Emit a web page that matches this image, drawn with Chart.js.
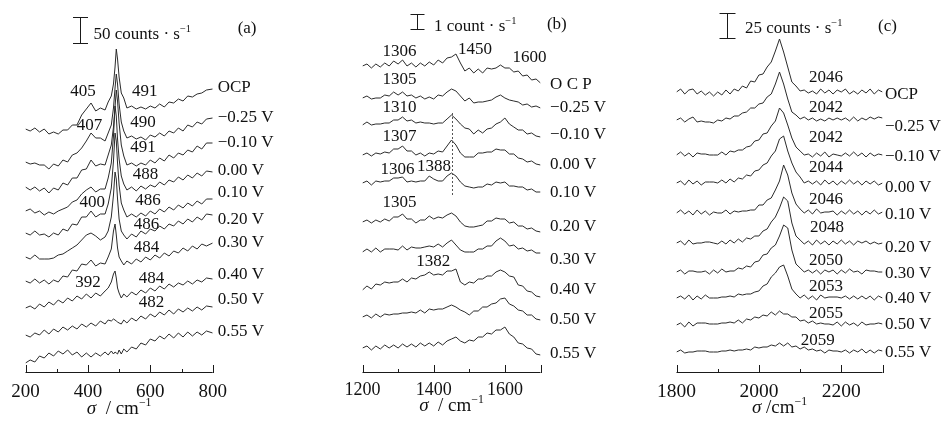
<!DOCTYPE html>
<html>
<head>
<meta charset="utf-8">
<script src="https://cdn.jsdelivr.net/npm/chart.js@4.4.1/dist/chart.umd.min.js"></script>
<style>
  html, body { margin: 0; padding: 0; background: #fff; }
  #wrap { position: relative; width: 941px; height: 424px; overflow: hidden; }
  canvas { position: absolute; top: 0; }
</style>
</head>
<body>
<div id="wrap">
  <canvas id="pa" width="320" height="424" style="left:0px"></canvas>
  <canvas id="pb" width="310" height="424" style="left:320px"></canvas>
  <canvas id="pc" width="311" height="424" style="left:630px"></canvas>
</div>
<script>
// potentials, top to bottom
const potentials = ['OCP', '−0.25 V', '−0.10 V', '0.00 V', '0.10 V', '0.20 V', '0.30 V', '0.40 V', '0.50 V', '0.55 V'];

// ---- panel (a): 200-800 cm-1 ----
const shiftA = [200,215,230,245,260,275,290,305,320,335,350,365,380,395,410,425,440,455,465,475,
  482,487,491,495,500,507,515,525,540,555,570,585,600,615,630,645,660,675,690,705,720,735,750,765,780,800];
const offsetA = [243, 210, 185, 161, 139, 115, 91, 64, 37, 9];
const specA = [
  [0,-2,1,-3,0,-5,-3,-5,-1,-1, 4,4,14,20,26,18,21,19,27,33, 45,62,80,70,52,36,31,21,23,20, 22,20,23,21,25,22,27,26,30,28, 33,32,35,36,39,40],
  [0,-2,-1,-3,-3,-7,-2,-4,2,0, 7,9,14,21,29,24,24,21,29,37, 54,74,88,78,58,40,31,24,26,23, 25,22,27,25,29,26,31,29,34,31, 37,35,40,38,43,44],
  [0,-3,0,-4,-1,-6,-1,-3,4,2, 9,9,17,18,27,21,23,22,32,42, 60,80,97,86,64,42,31,22,24,21, 24,22,27,24,29,26,32,29,34,32, 37,35,41,38,44,44],
  [0,2,-2,0,-4,-1,-3,0,2,4, 9,11,17,21,24,19,22,22,33,48, 75,105,95,72,52,35,27,21,24,20, 25,22,26,24,29,26,31,29,34,31, 36,33,38,35,40,39],
  [0,-2,2,-2,-1,-4,0,-2,4,2, 9,8,16,16,22,16,19,19,29,45, 72,100,92,70,48,30,23,16,19,16, 20,17,22,19,24,21,26,23,28,25, 30,27,32,29,34,34],
  [0,-2,2,-2,-2,-2,-1,2,3,6, 9,12,17,22,24,21,17,20,26,40, 62,85,78,58,38,26,22,18,23,20, 26,23,28,26,31,28,33,31,36,33, 38,35,40,37,43,42],
  [0,-2,2,-2,1,-3,1,-1,5,4, 11,10,17,16,21,15,18,17,24,32, 50,57,46,33,24,20,16,20,17,22, 19,24,21,26,23,28,25,30,28,33, 30,35,32,37,35,38],
  [0,2,-1,4,1,6,3,8,5,10, 7,12,9,14,10,15,12,17,20,26, 34,37,30,20,15,10,14,11,16,13, 18,15,20,17,22,19,24,21,25,23, 27,24,28,26,30,29],
  [0,-2,2,0,5,1,6,3,8,5, 9,6,11,8,12,9,14,11,15,14, 16,15,14,13,12,11,15,12,17,14, 19,16,21,18,23,20,25,21,26,23, 27,24,28,25,29,28],
  [0,3,1,7,5,10,7,12,9,13, 8,11,6,10,6,10,7,11,8,12, 9,11,10,9,13,9,14,11,16,14, 20,18,24,22,27,24,29,25,30,26, 31,27,31,28,32,30]
];

// ---- panel (b): 1200-1700 cm-1 ----
const shiftB = [1200,1212.5,1225,1237.5,1250,1262.5,1275,1287.5,1300,1312.5,1325,1337.5,1350,1362.5,1375,1387.5,
  1400,1412.5,1425,1437.5,1450,1462.5,1475,1487.5,1500,1512.5,1525,1537.5,1550,1562.5,1575,1587.5,
  1600,1612.5,1625,1637.5,1650,1662.5,1675,1687.5,1700];
const offsetB = [306, 274, 247, 217, 189, 150, 120, 82, 55, 24];
const specB = [
  [0,2,-2,2,-1,3,0,5,2,6, 0,3,-1,3,0,4,1,6,3,8, 9,12,3,-5,-2,-7,-3,-7,-2,-3, -2,1,-2,-2,-6,-5,-10,-9,-14,-13, -17],
  [0,2,-1,0,0,3,2,6,3,6, 2,3,0,2,-1,1,-1,3,2,6, 9,7,2,-3,0,-5,-4,-4,-3,-2, 1,3,0,-2,-3,-4,-7,-6,-9,-8, -10],
  [0,3,0,1,1,2,2,5,5,8, 4,5,2,3,2,2,1,2,2,6, 10,6,1,-3,-4,-9,-5,-8,-4,-3, 1,3,7,1,-2,-5,-5,-9,-8,-11, -12],
  [0,2,-1,2,1,3,2,6,6,9, 4,4,0,2,-1,2,1,4,3,9, 15,10,2,-2,-2,-2,2,2,3,3, 6,5,5,1,1,-3,-4,-7,-6,-9, -10],
  [0,2,-2,2,1,2,2,5,5,6, 1,2,1,2,2,7,4,2,2,7, 10,7,1,-3,-4,-5,-4,-4,-1,-2, 1,0,1,-3,-3,-4,-4,-7,-6,-9, -9],
  [0,2,-1,2,0,3,1,5,5,8, 3,3,-1,2,2,6,3,5,4,7, 9,6,0,-4,-5,-5,-4,-3,1,1, 4,3,3,-1,0,-4,-4,-7,-6,-9, -10],
  [0,3,0,4,0,3,3,3,2,6, 2,5,4,4,5,6,5,8,5,9, 12,7,2,0,0,0,3,3,6,6, 11,14,11,6,7,3,4,1,2,-1, -1],
  [0,4,1,6,5,8,7,8,8,11, 8,12,11,14,15,18,15,16,15,19, 19,21,8,5,8,7,11,11,14,14, 18,20,18,14,13,5,4,-1,-2,-6, -7],
  [0,2,-1,3,0,3,2,3,3,4, 4,5,4,7,4,8,7,8,8,10, 12,10,7,5,2,6,6,10,10,13, 14,18,19,13,11,7,6,2,2,-2, -3],
  [0,2,-2,2,-1,3,0,3,0,4, 1,4,1,5,2,5,2,6,3,7, 9,11,7,5,8,7,11,11,15,14, 18,18,21,14,11,5,4,0,-1,-6, -7]
];

// ---- panel (c): 1800-2300 cm-1 ----
const shiftC = [1800,1810,1820,1830,1840,1850,1860,1870,1880,1890,1900,1910,1920,1930,1940,1950,1960,1970,1980,1990,
  2000,2010,2020,2030,2040,2050,2060,2070,2080,2090,2100,2110,2120,2130,2140,2150,2160,2170,2180,2190,
  2200,2210,2220,2230,2240,2250,2260,2270,2280,2290,2300];
const offsetC = [280, 252, 217, 189, 159, 129, 100, 74, 47, 20];
const specC = [
  [0,3,-2,2,3,-2,1,-3,0,-4, 0,-3,2,-2,3,1,6,4,11,10, 17,18,25,30,41,53,40,25,10,6, 1,2,-1,1,-2,3,-1,2,-2,2, 0,3,-2,1,-2,2,-1,3,-2,2, 0],
  [0,2,-2,1,3,-2,-1,-2,-2,-3, 0,-1,2,1,4,4,7,8,12,12, 16,17,23,26,36,48,36,21,8,5, 1,3,0,2,-1,1,-1,2,0,2, 0,2,-1,3,-1,2,0,3,1,3, 2],
  [0,3,-1,2,-2,2,1,1,0,0, 0,3,0,4,3,5,5,8,9,14, 15,21,22,29,34,47,42,30,17,8, 4,0,1,-2,2,-1,3,-2,1,0, -1,2,-1,3,-1,2,-2,2,-1,1, 0],
  [0,2,-2,3,-1,2,-2,1,1,1, 0,3,0,4,1,5,4,8,7,12, 13,18,20,27,32,44,47,32,20,11, 6,0,2,-1,2,-2,3,-1,2,-2, 2,-1,3,-1,2,-2,2,-1,2,-2, 0],
  [0,3,-1,2,-2,3,-1,2,-2,1, 0,0,3,-1,2,1,2,2,3,3, 8,8,13,15,23,32,48,38,20,9, 4,0,3,-1,4,0,1,1,2,-2, 2,-1,3,-1,2,-2,2,-1,3,-1, 1],
  [0,2,-2,3,-1,0,0,1,1,0, -1,2,-1,3,0,4,1,5,4,7, 7,12,14,21,26,35,46,42,20,7, 3,-1,2,-2,3,-1,2,-2,2,-1, 3,-1,2,-2,2,0,2,-1,1,-1, 0],
  [0,2,-2,1,1,0,0,1,-2,2, -1,3,0,1,1,4,3,6,5,10, 11,17,18,24,27,36,47,44,22,8, 4,0,2,-1,2,-2,2,0,2,-2, 2,-1,3,0,1,-2,2,1,1,0, 0],
  [0,2,-1,3,-2,2,-1,3,0,0, 0,1,1,2,1,4,3,4,4,6, 7,12,14,21,25,31,33,22,9,4, 0,3,-1,2,-2,3,0,1,1,1, 0,2,-1,2,-1,2,-1,2,-2,2, 0],
  [0,2,-2,3,-1,2,2,2,1,1, 1,2,2,3,2,5,2,6,5,8, 7,10,9,13,10,14,11,11,8,8, 4,5,2,4,1,2,1,1,0,3, -1,3,0,2,-1,3,0,1,1,2, 1],
  [0,2,-1,0,0,1,1,1,0,0, 0,1,1,2,1,2,2,3,2,5, 4,5,5,7,6,9,6,9,5,6, 3,5,2,3,1,2,-1,2,1,1, 0,2,-1,2,0,3,-1,2,-1,2, 1]
];

// axis ticks
const majorA = [200, 400, 600, 800], minorA = [300, 500, 700], tickLabelsA = [200, 400, 600, 800];
const majorB = [1200, 1400, 1600, 1700], minorB = [1300, 1500], tickLabelsB = [1200, 1400, 1600];
const majorC = [1800, 2000, 2200, 2300], minorC = [1900, 2100], tickLabelsC = [1800, 2000, 2200];

// band labels: [text, shift, height]
const peakLabelsA = [['405',384,280],['491',582,280],['407',405,246],['490',577,249],['491',577,224],['488',585,197],
  ['400',414,169],['486',593,171],['486',588,147],['484',588,124],['392',400,89],['484',604,93],['482',604,69]];
const peakLabelsB = [['1306',1304,320],['1450',1516,322],['1600',1669,314],['1305',1304,292],['1310',1304,264],
  ['1307',1304,235],['1306',1298,202],['1388',1401,205],['1305',1304,169],['1382',1399,110]];
const peakLabelsC = [['2046',2163,294],['2042',2163,264],['2042',2163,234],['2044',2163,204],['2046',2163,172],
  ['2048',2165,144],['2050',2163,111],['2053',2163,85],['2055',2163,58],['2059',2143,31]];

// potential labels on the right
const rightYA = [284, 254, 229, 201, 179, 152, 129, 97, 72, 40];
const rightYB = [287, 264, 237, 207, 179, 145, 112, 82, 52, 18];
const rightYC = [277, 245, 215, 184, 157, 124, 98, 73, 47, 19];
const rightTextB = ['O C P'].concat(potentials.slice(1));

const SERIF = '"Liberation Serif", "Times New Roman", serif';

function drawRich(ctx, parts, x, y, size, align) {
  const fontOf = s => (s === 'i' ? 'italic ' : '') + (s === 'sup' ? size * 0.62 : size) + 'px ' + SERIF;
  let w = 0;
  parts.forEach(([t, s]) => { ctx.font = fontOf(s); w += ctx.measureText(t).width; });
  let cx = align === 'center' ? x - w / 2 : x;
  ctx.textAlign = 'left';
  ctx.textBaseline = 'alphabetic';
  parts.forEach(([t, s]) => {
    ctx.font = fontOf(s);
    ctx.fillText(t, cx, s === 'sup' ? y - size * 0.42 : y);
    cx += ctx.measureText(t).width;
  });
}

const panelPlugin = {
  id: 'panel',
  afterDatasetsDraw(chart, args, o) {
    const ctx = chart.ctx;
    const xs = chart.scales.x, ys = chart.scales.y;
    const X = v => xs.getPixelForValue(v);
    const Y = v => ys.getPixelForValue(v);
    const base = chart.chartArea.bottom;
    ctx.save();
    ctx.strokeStyle = '#1a1a1a';
    ctx.fillStyle = '#111';
    ctx.lineWidth = 1;

    // bottom axis with inward ticks
    ctx.beginPath();
    ctx.moveTo(xs.left, base + 0.5);
    ctx.lineTo(xs.right, base + 0.5);
    o.major.forEach(v => { const p = Math.round(X(v)) + 0.5; ctx.moveTo(p, base + 1); ctx.lineTo(p, base - 7); });
    o.minor.forEach(v => { const p = Math.round(X(v)) + 0.5; ctx.moveTo(p, base + 1); ctx.lineTo(p, base - 3); });
    ctx.stroke();

    ctx.font = o.tickSize + 'px ' + SERIF;
    ctx.textAlign = 'center';
    ctx.textBaseline = 'alphabetic';
    o.labels.forEach(v => ctx.fillText(String(v), X(v), base + o.tickDrop));

    drawRich(ctx, o.title, (xs.left + xs.right) / 2, base + o.titleDrop, 19, 'center');

    // dashed guide
    if (o.dash) {
      ctx.save();
      ctx.setLineDash([2, 2]);
      ctx.strokeStyle = '#555';
      ctx.beginPath();
      const p = Math.round(X(o.dash.x)) + 0.5;
      ctx.moveTo(p, Y(o.dash.from));
      ctx.lineTo(p, Y(o.dash.to));
      ctx.stroke();
      ctx.restore();
    }

    // scale bar
    const bx = Math.round(X(o.bar.x)) + 0.5;
    const by0 = Math.round(Y(o.bar.y0)) + 0.5, by1 = Math.round(Y(o.bar.y1)) + 0.5;
    ctx.beginPath();
    ctx.moveTo(bx, by0); ctx.lineTo(bx, by1);
    ctx.moveTo(bx - o.bar.half, by0); ctx.lineTo(bx + o.bar.half, by0);
    ctx.moveTo(bx - o.bar.half, by1); ctx.lineTo(bx + o.bar.half, by1);
    ctx.stroke();
    drawRich(ctx, o.barText, X(o.barX), Y(o.barY), 17, 'left');

    ctx.font = '17px ' + SERIF;
    ctx.textAlign = 'left';
    ctx.textBaseline = 'middle';
    ctx.fillText(o.tag[0], X(o.tag[1]), Y(o.tag[2]));

    ctx.textAlign = 'center';
    o.peaks.forEach(([t, x, y]) => ctx.fillText(t, X(x), Y(y)));

    ctx.textAlign = 'left';
    o.rightText.forEach((t, i) => ctx.fillText(t, X(o.rightX), Y(o.rightY[i])));
    ctx.restore();
  }
};

function buildSets(shift, offs, specs) {
  return specs.map((s, i) => ({
    label: potentials[i],
    data: s.map((v, j) => ({ x: shift[j], y: offs[i] + v })),
    borderColor: '#2b2b2b',
    borderWidth: 1,
    pointRadius: 0,
    tension: 0,
    fill: false
  }));
}

function makePanel(id, shift, offs, specs, range, pad, opts) {
  return new Chart(document.getElementById(id), {
    type: 'line',
    data: { datasets: buildSets(shift, offs, specs) },
    options: {
      responsive: false,
      animation: false,
      devicePixelRatio: 1,
      events: [],
      layout: { padding: { left: pad[0], right: pad[1], top: 0, bottom: 0 } },
      scales: {
        x: {
          type: 'linear', min: range[0], max: range[1],
          grid: { display: false, drawTicks: false },
          border: { display: false },
          ticks: { display: false },
          afterFit: s => { s.height = 52; }
        },
        y: { display: false, min: 0, max: 372 }
      },
      plugins: { legend: { display: false }, tooltip: { enabled: false }, panel: opts }
    },
    plugins: [panelPlugin]
  });
}

makePanel('pa', shiftA, offsetA, specA, [200, 800], [25.5, 107.3], {
  major: majorA, minor: minorA, labels: tickLabelsA, tickSize: 19, tickDrop: 25,
  title: [['σ', 'i'], ['  / cm', ''], ['−1', 'sup']], titleDrop: 42,
  bar: { x: 376, y0: 329, y1: 355, half: 7.5 },
  barText: [['50 counts · s', ''], ['−1', 'sup']], barX: 418, barY: 333,
  tag: ['(a)', 880, 343],
  peaks: peakLabelsA, rightText: potentials, rightX: 816, rightY: rightYA
});

makePanel('pb', shiftB, offsetB, specB, [1200, 1700], [42.5, 89.5], {
  major: majorB, minor: minorB, labels: tickLabelsB, tickSize: 18, tickDrop: 23,
  title: [['σ', 'i'], ['  / cm', ''], ['−1', 'sup']], titleDrop: 39,
  dash: { x: 1452, from: 177, to: 260 },
  bar: { x: 1353, y0: 343, y1: 358, half: 7 },
  barText: [['1 count · s', ''], ['−1', 'sup']], barX: 1401, barY: 341,
  tag: ['(b)', 1718, 347],
  peaks: peakLabelsB, rightText: rightTextB, rightX: 1727, rightY: rightYB
});

makePanel('pc', shiftC, offsetC, specC, [1800, 2300], [46.5, 58.5], {
  major: majorC, minor: minorC, labels: tickLabelsC, tickSize: 19.5, tickDrop: 25,
  title: [['σ', 'i'], [' /cm', ''], ['−1', 'sup']], titleDrop: 41,
  bar: { x: 1923, y0: 334, y1: 359, half: 8 },
  barText: [['25 counts · s', ''], ['−1', 'sup']], barX: 1966, barY: 339,
  tag: ['(c)', 2289, 345],
  peaks: peakLabelsC, rightText: potentials, rightX: 2306, rightY: rightYC
});
</script>
</body>
</html>
